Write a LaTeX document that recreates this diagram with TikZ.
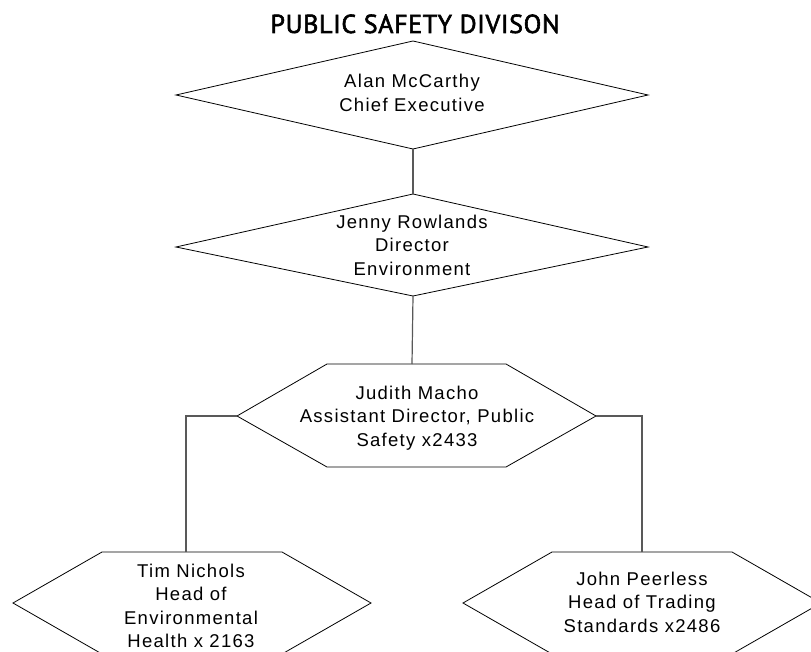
\documentclass[tikz,border=0pt]{standalone}
\usepackage{fontspec}
\setmainfont{Liberation Sans}
\newfontfamily\labfont[LetterSpace=7]{Liberation Sans}
\newfontfamily\titlefont[LetterSpace=2.5,FakeBold=2.2]{PT Sans}
\begin{document}
\begin{tikzpicture}[x=1pt,y=-1pt,
  lab/.style={align=center,inner sep=0pt,font=\labfont\fontsize{18.5}{23.5}\selectfont},
  shp/.style={draw=black,line width=0.8pt,line join=miter},
  conn/.style={draw=black!65,line width=1.2pt}]
\useasboundingbox (0,0) rectangle (811,652);
\clip (0,0) rectangle (811,652);
% title
\node[inner sep=0pt,anchor=base,font=\titlefont\fontsize{26}{30}\selectfont] (title) at (415,33) {PUBLIC SAFETY DIVISON};
% diamond 1
\coordinate (d1n) at (413,41);
\coordinate (d1s) at (413,149);
\draw[shp] (d1n) -- (648,95) -- (d1s) -- (176,95) -- cycle;
\node[lab] (ceo) at (412,93) {Alan McCarthy\\Chief Executive};
% diamond 2
\coordinate (d2n) at (413,194);
\coordinate (d2s) at (413,296);
\draw[shp] (d2n) -- (648,247) -- (d2s) -- (176,247) -- cycle;
\node[lab] (dir) at (412,245) {Jenny Rowlands\\Director\\Environment};
% hexagon judith
\coordinate (h1n) at (412,364);
\coordinate (h1w) at (237,416);
\coordinate (h1e) at (596,416);
\draw[shp] (327,364) -- (506,364) -- (h1e) -- (506,467) -- (327,467) -- (h1w) -- cycle;
\node[lab] (ad) at (417,418) {Judith Macho\\Assistant Director, Public\\Safety x2433};
% hexagon tim
\coordinate (h2n) at (186,552);
\draw[shp] (102,552) -- (282,552) -- (371,603) -- (282,654) -- (102,654) -- (13,603) -- cycle;
\node[lab] (tim) at (191,606) {Tim Nichols\\Head of\\Environmental\\Health x 2163};
% hexagon john
\coordinate (h3n) at (642,552);
\draw[shp] (552,552) -- (732,552) -- (821,603) -- (732,654) -- (552,654) -- (463,603) -- cycle;
\node[lab] (john) at (642,602) {John Peerless\\Head of Trading\\Standards x2486};
% connectors
\draw[conn] (d1s) -- (d2n);
\draw[conn] (d2s) -- (h1n);
\draw[conn] (h1w) -| (h2n);
\draw[conn] (h1e) -| (h3n);
\end{tikzpicture}
\end{document}
